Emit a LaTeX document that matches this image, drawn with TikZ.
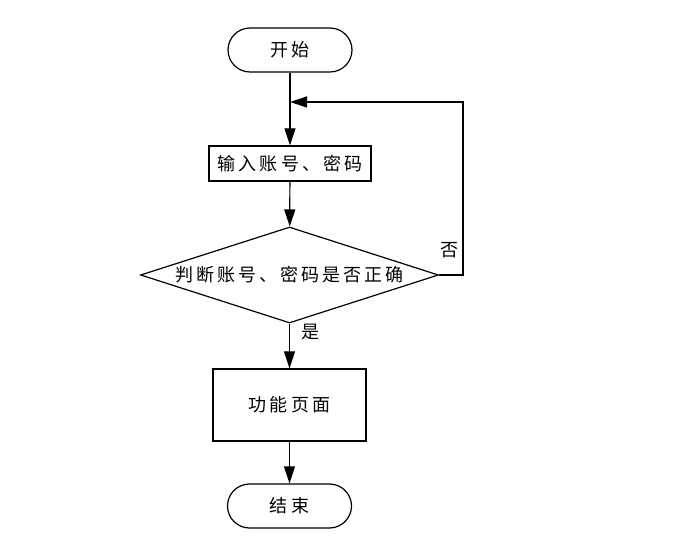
\documentclass[tikz,border=0pt]{standalone}
\usepackage{fontspec}
\newfontfamily\cjk[LetterSpace=17]{Noto Sans CJK SC}
\usetikzlibrary{shapes.geometric,arrows.meta}
\begin{document}
\begin{tikzpicture}[x=1pt, y=-1pt, line width=1.2pt,
        every node/.style={font=\cjk\fontsize{18}{20}\selectfont},
        term/.style={draw, rectangle, rounded corners=22pt, minimum width=124pt, minimum height=44pt},
        proc/.style={draw, rectangle, inner sep=0pt},
        cond/.style={draw, diamond, aspect=3.1, inner sep=0pt, minimum width=298pt, minimum height=96pt},
        flow/.style={-{Triangle[length=17pt, width=11pt]}}]
            \useasboundingbox (0, 0) rectangle (675, 553);
            \node[term] (start) at (290, 50) {开始};
            \node[proc, minimum width=162pt, minimum height=35pt] (input) at (290, 163.5) {输入账号、密码};
            \node[cond, label=center:{判断账号、密码是否正确}] (check) at (289.5, 275) {};
            \node[proc, minimum width=153pt, minimum height=72pt] (func) at (289.5, 405) {功能页面};
            \node[term] (stop) at (289.5, 506) {结束};
            \coordinate (merge) at (290, 102);
            \coordinate (loop) at (463, 275);
            \draw[flow] (start) -- (input);
            \draw[flow] (input) -- (check);
            \draw[flow] (check) -- (func);
            \draw[flow] (func) -- (stop);
            \draw[flow] (check.east) -- (loop) |- (merge);
            \node[right] (yes) at (298, 332) {是};
            \node (no) at (449, 250) {否};
        \end{tikzpicture}
\end{document}
